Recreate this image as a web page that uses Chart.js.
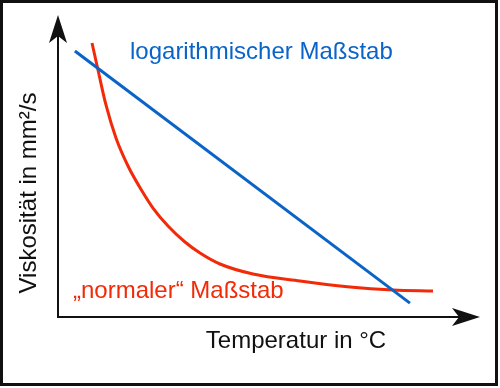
<!DOCTYPE html>
<html>
<head>
<meta charset="utf-8">
<script src="https://cdn.jsdelivr.net/npm/chart.js@4/dist/chart.umd.min.js"></script>
<style>
html,body{margin:0;padding:0;background:#fff;}
#wrap{width:500px;height:388px;position:relative;}
</style>
</head>
<body>
<div id="wrap"><canvas id="c" width="500" height="388"></canvas></div>
<script>
// Data (arbitrary units, axes have no ticks)
const logX = [4.0, 83.4];
const logY = [88.1, 4.6];
const normX = [8.06, 9.48, 11.37, 13.74, 16.59, 19.91, 22.51, 26.07, 30.09, 33.65, 38.39, 46.21, 57.35, 69.19, 79.38, 88.86];
const normY = [90.73, 81.79, 70.2, 59.27, 50.0, 41.72, 36.09, 30.13, 24.83, 21.19, 17.55, 14.24, 11.92, 9.93, 8.94, 8.61];
const labelLog = "logarithmischer Maßstab";
const labelNorm = "„normaler“ Maßstab";
const xTitle = "Temperatur in °C";
const yTitle = "Viskosität in mm²/s";

const BLUE = '#0a64c8';
const RED = '#f22a08';
const FONT = '24px "Liberation Sans", Arial, sans-serif';

const pts = (xs, ys) => xs.map((x, i) => ({x, y: ys[i]}));

const deco = {
  id: 'deco',
  beforeDraw(chart) {
    const ctx = chart.ctx;
    ctx.save();
    ctx.fillStyle = '#fff';
    ctx.fillRect(0, 0, chart.width, chart.height);
    ctx.restore();
  },
  afterDraw(chart) {
    const ctx = chart.ctx;
    const a = chart.chartArea;
    ctx.save();
    // frame
    ctx.strokeStyle = '#111';
    ctx.lineWidth = 3;
    ctx.strokeRect(1.5, 1.5, 495, 383);
    // axes
    ctx.lineWidth = 2;
    ctx.beginPath();
    ctx.moveTo(a.left, a.top + 20);
    ctx.lineTo(a.left, a.bottom);
    ctx.lineTo(a.right - 20, a.bottom);
    ctx.stroke();
    ctx.fillStyle = '#111';
    // y arrow
    ctx.beginPath();
    ctx.moveTo(a.left, a.top);
    ctx.lineTo(a.left + 9, a.top + 28);
    ctx.lineTo(a.left, a.top + 21);
    ctx.lineTo(a.left - 9, a.top + 28);
    ctx.closePath();
    ctx.fill();
    // x arrow
    ctx.beginPath();
    ctx.moveTo(a.right, a.bottom);
    ctx.lineTo(a.right - 28, a.bottom - 9);
    ctx.lineTo(a.right - 21, a.bottom);
    ctx.lineTo(a.right - 28, a.bottom + 9);
    ctx.closePath();
    ctx.fill();
    // texts
    ctx.font = FONT;
    ctx.textBaseline = 'alphabetic';
    ctx.textAlign = 'left';
    ctx.fillStyle = BLUE;
    ctx.fillText(labelLog, 130, 59);
    ctx.fillStyle = RED;
    ctx.fillText(labelNorm, 73, 298);
    ctx.fillStyle = '#111';
    ctx.textAlign = 'center';
    ctx.fillText(xTitle, 296, 348);
    ctx.translate(36, 193);
    ctx.rotate(-Math.PI / 2);
    ctx.fillText(yTitle, 0, 0);
    ctx.restore();
  }
};

new Chart(document.getElementById('c'), {
  type: 'line',
  data: {
    datasets: [
      {data: pts(logX, logY), borderColor: BLUE, borderWidth: 3, pointRadius: 0, tension: 0},
      {data: pts(normX, normY), borderColor: RED, borderWidth: 3, pointRadius: 0, cubicInterpolationMode: 'monotone'}
    ]
  },
  options: {
    responsive: false,
    animation: false,
    events: [],
    layout: {padding: {left: 58, right: 20, top: 15, bottom: 71}},
    plugins: {legend: {display: false}, tooltip: {enabled: false}, title: {display: false}},
    scales: {
      x: {type: 'linear', min: 0, max: 100, display: false},
      y: {type: 'linear', min: 0, max: 100, display: false}
    }
  },
  plugins: [deco]
});
</script>
</body>
</html>
